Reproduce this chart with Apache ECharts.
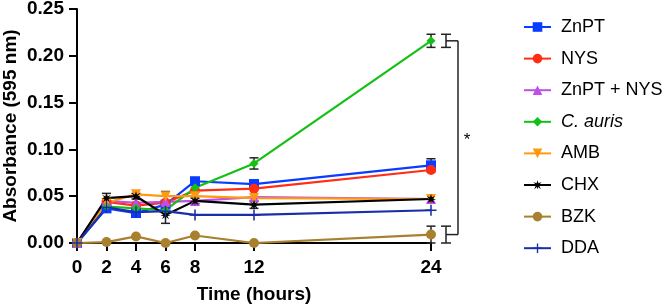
<!DOCTYPE html>
<html style="height: 100%">
<head>
    <meta charset="utf-8">
</head>
<body style="height: 100%; margin: 0">
<div id="main" style="width: 666px; height: 306px"></div>
<script src="https://cdn.jsdelivr.net/npm/echarts@6/dist/echarts.min.js"></script>
<script type="text/javascript">
    // time points (hours)
    var hours = [0, 2, 4, 6, 8, 12, 24];
    var yTicks = [0, 0.05, 0.10, 0.15, 0.20, 0.25];

    // absorbance means
    var znpt    = [0, 0.037, 0.032, 0.041, 0.066, 0.063, 0.083];
    var nys     = [0, 0.044, 0.040, 0.043, 0.056, 0.058, 0.078];
    var znptNys = [0, 0.045, 0.043, 0.044, 0.045, 0.049, 0.047];
    var cauris  = [0, 0.039, 0.037, 0.035, 0.059, 0.085, 0.216];
    var amb     = [0, 0.043, 0.052, 0.050, 0.050, 0.048, 0.047];
    var chx     = [0, 0.048, 0.050, 0.030, 0.045, 0.041, 0.047];
    var bzk     = [0, 0.001, 0.007, 0.000, 0.008, 0.000, 0.009];
    var dda     = [0, 0.038, 0.033, 0.034, 0.030, 0.030, 0.035];

    // error (+/-)
    var znptErr   = [0, 0, 0, 0, 0, 0, 0.007];
    var caurisErr = [0, 0, 0, 0, 0, 0.006, 0.007];
    var ambErr    = [0, 0, 0, 0.005, 0, 0, 0];
    var chxErr    = [0, 0.005, 0.003, 0.009, 0.003, 0.004, 0];
    var bzkErr    = [0, 0, 0, 0, 0, 0, 0.009];

    var font = 'Liberation Sans, Arial, sans-serif';
    var myChart = echarts.init(document.getElementById('main'));

    function pairs(vals) {
        return hours.map(function (h, i) { return [h, vals[i]]; });
    }

    // error bar rows: [x, low, high]
    var errRows = [];
    [[znpt, znptErr], [cauris, caurisErr], [amb, ambErr], [chx, chxErr], [bzk, bzkErr]].forEach(function (p) {
        p[1].forEach(function (e, i) {
            if (e > 0) errRows.push([hours[i], p[0][i] - e, p[0][i] + e]);
        });
    });

    var last = hours.length - 1;
    var bracketRow = [[hours[last], cauris[last], caurisErr[last], bzk[last], bzkErr[last]]];

    var star = 'path://M5,0 L6,3.3 L9.3,1.9 L7,4.5 L10,5.5 L7,6 L8.5,9.3 L5.6,7.2 L5,10 L4.4,7.2 L1.5,9.3 L3,6 L0,5.5 L3,4.5 L0.7,1.9 L4,3.3 Z';
    var plus = 'path://M4.3,0 L5.7,0 L5.7,4.3 L10,4.3 L10,5.7 L5.7,5.7 L5.7,10 L4.3,10 L4.3,5.7 L0,5.7 L0,4.3 L4.3,4.3 Z';

    function line(name, vals, color, symbol, size, rotate) {
        return {
            name: name,
            type: 'line',
            data: pairs(vals),
            symbol: symbol,
            symbolSize: size,
            symbolRotate: rotate || 0,
            color: color,
            lineStyle: { width: 2.2, color: color },
            itemStyle: { color: color },
            z: 3
        };
    }

    var option = {
        animation: false,
        backgroundColor: '#fff',
        grid: { left: 77, right: 235, top: 9, bottom: 63, outerBoundsMode: 'none', containLabel: false },
        legend: {
            orient: 'vertical',
            left: 518,
            top: 13,
            itemWidth: 27,
            itemHeight: 12,
            itemGap: 13.6,
            textStyle: { fontFamily: font, fontSize: 18, color: '#000', padding: [0, 0, 0, 5],
                rich: { i: { fontFamily: font, fontSize: 18, fontStyle: 'italic', color: '#000' } } },
            formatter: function (n) { return n === 'C. auris' ? '{i|C. auris}' : n; },
            data: ['ZnPT', 'NYS', 'ZnPT + NYS', 'C. auris', 'AMB', 'CHX', 'BZK', 'DDA']
        },
        xAxis: {
            type: 'value',
            min: 0,
            max: 24,
            name: 'Time (hours)',
            nameLocation: 'middle',
            nameGap: 42,
            nameMoveOverlap: false,
            nameTextStyle: { fontFamily: font, fontSize: 19, fontWeight: 'bold', color: '#000' },
            axisLine: { lineStyle: { color: '#000', width: 2 } },
            axisTick: { length: 8, lineStyle: { color: '#000', width: 2 }, customValues: hours },
            axisLabel: { fontFamily: font, fontSize: 19, fontWeight: 'bold', color: '#000', margin: 15, customValues: hours },
            splitLine: { show: false }
        },
        yAxis: {
            type: 'value',
            min: 0,
            max: 0.25,
            interval: 0.05,
            name: 'Absorbance (595 nm)',
            nameLocation: 'middle',
            nameGap: 57,
            nameMoveOverlap: false,
            nameTextStyle: { fontFamily: font, fontSize: 19, fontWeight: 'bold', color: '#000' },
            axisLine: { show: true, lineStyle: { color: '#000', width: 2 } },
            axisTick: { show: true, length: 8, lineStyle: { color: '#000', width: 2 }, customValues: yTicks },
            axisLabel: { fontFamily: font, fontSize: 19, fontWeight: 'bold', color: '#000', margin: 13,
                formatter: function (v) { return v.toFixed(2); } },
            splitLine: { show: false }
        },
        series: [
            {
                type: 'custom',
                name: 'err',
                clip: false,
                z: 2,
                data: errRows,
                renderItem: function (params, api) {
                    var lo = api.coord([api.value(0), api.value(1)]);
                    var hi = api.coord([api.value(0), api.value(2)]);
                    var w = 4.5;
                    var st = { stroke: '#222', lineWidth: 1.5 };
                    return {
                        type: 'group',
                        children: [
                            { type: 'line', shape: { x1: lo[0], y1: lo[1], x2: hi[0], y2: hi[1] }, style: st },
                            { type: 'line', shape: { x1: lo[0] - w, y1: lo[1], x2: lo[0] + w, y2: lo[1] }, style: st },
                            { type: 'line', shape: { x1: hi[0] - w, y1: hi[1], x2: hi[0] + w, y2: hi[1] }, style: st }
                        ]
                    };
                }
            },
            line('ZnPT', znpt, '#0a3cff', 'rect', 10),
            line('NYS', nys, '#ff2d14', 'circle', 10),
            line('ZnPT + NYS', znptNys, '#c04ee8', 'triangle', 10),
            line('C. auris', cauris, '#14c014', 'diamond', 9),
            line('AMB', amb, '#ff9a10', 'triangle', 10, 180),
            line('CHX', chx, '#000000', star, 10),
            line('BZK', bzk, '#a8802e', 'circle', 10),
            line('DDA', dda, '#1a2ea8', plus, 11),
            {
                type: 'custom',
                name: 'bracket',
                clip: false,
                z: 4,
                data: bracketRow,
                renderItem: function (params, api) {
                    var x = api.value(0);
                    var topMid = api.coord([x, api.value(1)]);
                    var topHi = api.coord([x, api.value(1) + api.value(2)]);
                    var topLo = api.coord([x, api.value(1) - api.value(2)]);
                    var botMid = api.coord([x, api.value(3)]);
                    var botHi = api.coord([x, api.value(3) + api.value(4)]);
                    var botLo = api.coord([x, api.value(3) - api.value(4)]);
                    var bx = topMid[0] + 15, vx = topMid[0] + 27, w = 5;
                    var st = { stroke: '#222', lineWidth: 1.5 };
                    function l(x1, y1, x2, y2) { return { type: 'line', shape: { x1: x1, y1: y1, x2: x2, y2: y2 }, style: st }; }
                    return {
                        type: 'group',
                        children: [
                            l(bx, topHi[1], bx, topLo[1]), l(bx - w, topHi[1], bx + w, topHi[1]), l(bx - w, topLo[1], bx + w, topLo[1]),
                            l(bx, botHi[1], bx, botLo[1]), l(bx - w, botHi[1], bx + w, botHi[1]), l(bx - w, botLo[1], bx + w, botLo[1]),
                            l(bx, topMid[1], vx, topMid[1]), l(bx, botMid[1], vx, botMid[1]),
                            l(vx, topMid[1], vx, botMid[1]),
                            { type: 'text', style: { text: '*', x: vx + 9, y: (topMid[1] + botMid[1]) / 2 + 3,
                                fontFamily: font, fontSize: 17, fill: '#000', align: 'center', verticalAlign: 'middle' } }
                        ]
                    };
                }
            }
        ]
    };
    myChart.setOption(option);
</script>
</body>
</html>
